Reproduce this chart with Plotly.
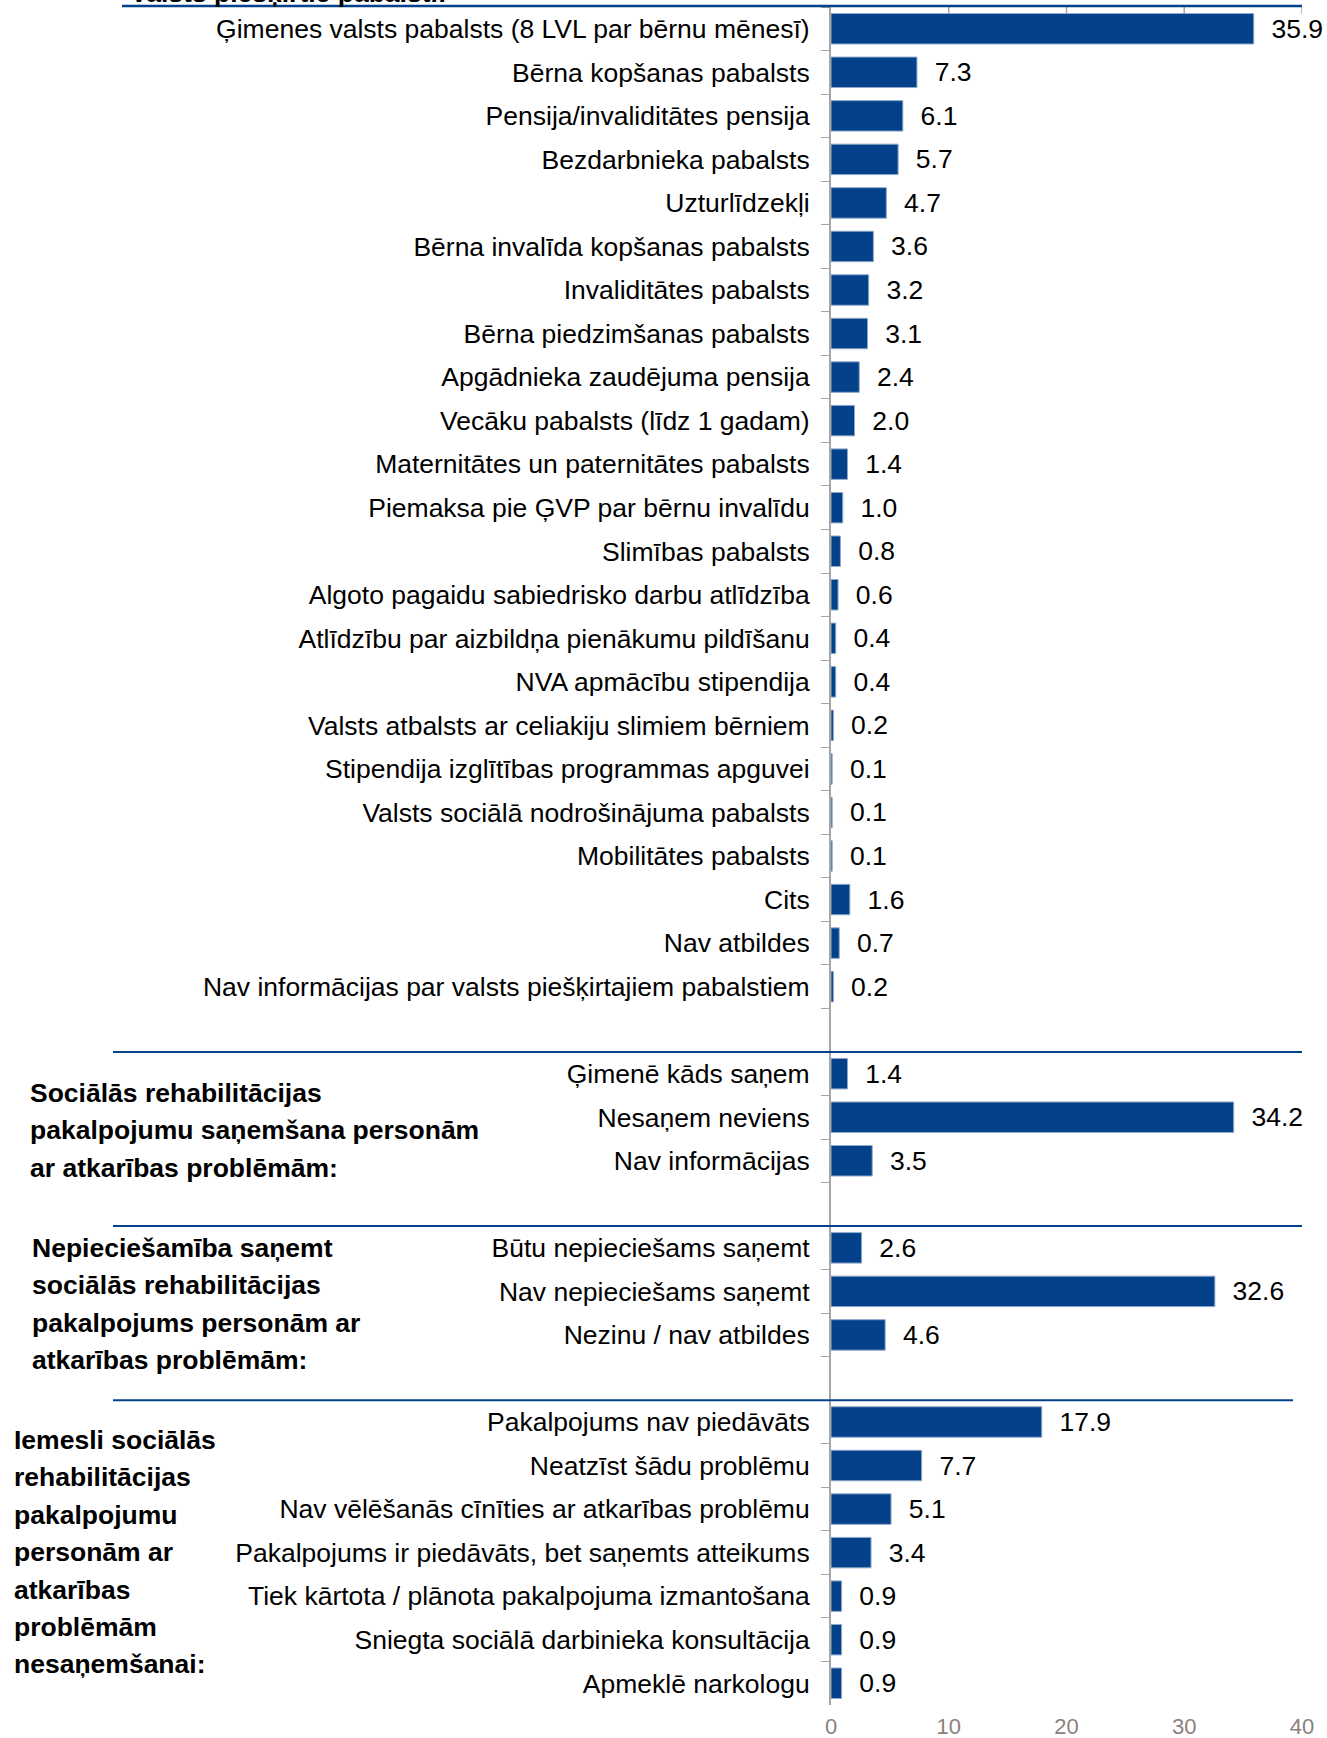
import plotly.graph_objects as go

# section 1: state benefits
benefits = [
    "Ģimenes valsts pabalsts (8 LVL par bērnu mēnesī)",
    "Bērna kopšanas pabalsts",
    "Pensija/invaliditātes pensija",
    "Bezdarbnieka pabalsts",
    "Uzturlīdzekļi",
    "Bērna invalīda kopšanas pabalsts",
    "Invaliditātes pabalsts",
    "Bērna piedzimšanas pabalsts",
    "Apgādnieka zaudējuma pensija",
    "Vecāku pabalsts (līdz 1 gadam)",
    "Maternitātes un paternitātes pabalsts",
    "Piemaksa pie ĢVP par bērnu invalīdu",
    "Slimības pabalsts",
    "Algoto pagaidu sabiedrisko darbu atlīdzība",
    "Atlīdzību par aizbildņa pienākumu pildīšanu",
    "NVA apmācību stipendija",
    "Valsts atbalsts ar celiakiju slimiem bērniem",
    "Stipendija izglītības programmas apguvei",
    "Valsts sociālā nodrošinājuma pabalsts",
    "Mobilitātes pabalsts",
    "Cits",
    "Nav atbildes",
    "Nav informācijas par valsts piešķirtajiem pabalstiem",
]
benefit_vals = [35.9, 7.3, 6.1, 5.7, 4.7, 3.6, 3.2, 3.1, 2.4, 2.0, 1.4, 1.0,
                0.8, 0.6, 0.4, 0.4, 0.2, 0.1, 0.1, 0.1, 1.6, 0.7, 0.2]

# section 2
receiving = ["Ģimenē kāds saņem", "Nesaņem neviens", "Nav informācijas"]
receiving_vals = [1.4, 34.2, 3.5]

# section 3
need = ["Būtu nepieciešams saņemt", "Nav nepieciešams saņemt",
        "Nezinu / nav atbildes"]
need_vals = [2.6, 32.6, 4.6]

# section 4
reasons = [
    "Pakalpojums nav piedāvāts",
    "Neatzīst šādu problēmu",
    "Nav vēlēšanās cīnīties ar atkarības problēmu",
    "Pakalpojums ir piedāvāts, bet saņemts atteikums",
    "Tiek kārtota / plānota pakalpojuma izmantošana",
    "Sniegta sociālā darbinieka konsultācija",
    "Apmeklē narkologu",
]
reasons_vals = [17.9, 7.7, 5.1, 3.4, 0.9, 0.9, 0.9]

title_top = "Valsts piešķirtie pabalsti:"
section_titles = [
    ["Sociālās rehabilitācijas", "pakalpojumu saņemšana personām",
     "ar atkarības problēmām:"],
    ["Nepieciešamība saņemt", "sociālās rehabilitācijas",
     "pakalpojums personām ar", "atkarības problēmām:"],
    ["Iemesli sociālās", "rehabilitācijas", "pakalpojumu", "personām ar",
     "atkarības", "problēmām", "nesaņemšanai:"],
]
x_ticks = [0, 10, 20, 30, 40]

BLUE = "#03428a"
GRAY = "#a6a6a6"
FONT = "Liberation Sans, Arial, sans-serif"
FS = 26.5

# build one category list with blank spacer rows between sections
sections = [(benefits, benefit_vals), (receiving, receiving_vals),
            (need, need_vals), (reasons, reasons_vals)]
cats, vals, sep_pos = [], [], []
for i, (c, v) in enumerate(sections):
    if i > 0:
        cats.append(" " * i)
        vals.append(None)
        sep_pos.append(len(cats) - 0.5)
    cats += c
    vals += v

fig = go.Figure()
fig.add_trace(go.Bar(
    y=cats, x=vals, orientation="h",
    marker=dict(color=BLUE, line=dict(color="#8fa9cc", width=1)),
    text=[None if v is None else "\u00a0\u00a0%.1f" % v for v in vals],
    textposition="outside", cliponaxis=False,
    textfont=dict(size=FS, color="black", family=FONT),
    width=0.7,
))

W, H = 1327, 1738
L, R, T, B = 831, 25, 7, 33
pw = W - L - R
shapes = []
# blue separators
sep_x0 = (113 - L) / pw
sep_ends = [1.0, 1.0, (1293 - L) / pw]
for p, x1 in zip(sep_pos, sep_ends):
    shapes.append(dict(type="line", xref="paper", yref="y", x0=sep_x0, x1=x1,
                       y0=p, y1=p, line=dict(color=BLUE, width=2)))
# top frame with small ticks
for t in x_ticks[1:]:
    shapes.append(dict(type="line", xref="x", yref="paper", x0=t, x1=t,
                       ysizemode="pixel", yanchor=1, y0=0, y1=-7,
                       line=dict(color=GRAY, width=1.5)))
shapes.append(dict(type="line", xref="paper", yref="paper", x0=(122 - L) / pw,
                   x1=1.0, y0=1, y1=1, ysizemode="pixel", yanchor=1,
                   line=dict(color=BLUE, width=2.5)))

annotations = [dict(text="<b>%s</b>" % title_top, xref="paper", yref="paper",
                    x=(128 - L) / pw, y=1, xanchor="left", yanchor="bottom",
                    yshift=-3, showarrow=False,
                    font=dict(size=FS, color="black", family=FONT))]
header_pos = [(28, 1093), (30, 1248), (12, 1440)]
for (hx, hy), lines in zip(header_pos, section_titles):
    for k, line in enumerate(lines):
        ypix = hy + k * 37.4
        annotations.append(dict(
            text="<b>%s</b>" % line, xref="paper", yref="paper",
            x=(hx - L) / pw, y=1 - (ypix - T) / (H - T - B),
            xanchor="left", yanchor="middle", showarrow=False,
            font=dict(size=FS, color="black", family=FONT)))

fig.update_layout(
    width=W, height=H,
    margin=dict(l=L, r=R, t=T, b=B),
    plot_bgcolor="white", paper_bgcolor="white",
    showlegend=False,
    bargap=0.3,
    shapes=shapes,
    annotations=annotations,
    font=dict(family=FONT, color="black"),
)
fig.update_xaxes(range=[0, 40], tickvals=x_ticks, showgrid=False,
                 zeroline=False, showline=False, ticks="", automargin=False,
                 tickfont=dict(size=22, color="#8c817c", family=FONT),
                 ticklabelstandoff=6)
fig.update_yaxes(categoryorder="array", categoryarray=cats,
                 autorange="reversed", showgrid=False, showline=True,
                 linecolor=GRAY, linewidth=2, ticks="outside", automargin=False,
                 tickson="boundaries", ticklen=8, tickcolor=GRAY,
                 tickfont=dict(size=FS, color="black", family=FONT),
                 ticklabelstandoff=14)

fig.write_html("out.html", config={"displayModeBar": False},
               post_script="document.body.style.margin='0';"
                           "document.body.style.overflow='hidden';")
